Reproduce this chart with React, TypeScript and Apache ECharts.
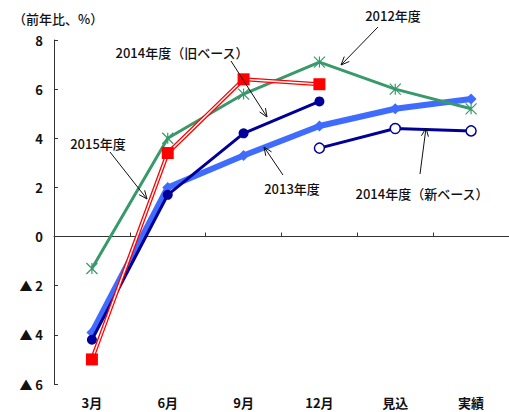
import React, { useEffect, useRef } from "react";
import * as echarts from "echarts";

// Survey round (months) plus estimate / actual columns
const categories = ["3月", "6月", "9月", "12月", "見込", "実績"];

// Year-on-year change, %
const fy2012 = [-1.3, 4.0, 5.8, 7.1, 6.0, 5.2];
const fy2013 = [-3.9, 2.0, 3.3, 4.5, 5.2, 5.6];
const fy2014Old = [-5.0, 3.4, 6.4, 6.2, null, null];
const fy2014New = [null, null, null, 3.6, 4.4, 4.3];
const fy2015 = [-4.2, 1.7, 4.2, 5.5, null, null];

const yTicks = [-6, -4, -2, 0, 2, 4, 6, 8];

const FONT = "'Noto Sans CJK JP', 'Noto Sans', sans-serif";
const GREEN = "#38996a";
const LIGHT_BLUE = "#3f6cff";
const NAVY = "#000099";
const RED = "#ff0000";

// Label text with an open arrow pointing from (x1,y1) to (x2,y2)
function callout(text: string, tx: number, ty: number, x1: number, y1: number, x2: number, y2: number) {
  const ang = Math.atan2(y2 - y1, x2 - x1);
  const len = 9;
  const spread = 0.4;
  const a1 = [x2 - len * Math.cos(ang - spread), y2 - len * Math.sin(ang - spread)];
  const a2 = [x2 - len * Math.cos(ang + spread), y2 - len * Math.sin(ang + spread)];
  return [
    {
      type: "text",
      x: tx,
      y: ty,
      style: { text, font: `500 13px ${FONT}`, fill: "#111", textAlign: "center", textVerticalAlign: "middle" },
      z: 100,
    },
    { type: "line", shape: { x1, y1, x2, y2 }, style: { stroke: "#111", lineWidth: 1 }, z: 100 },
    { type: "polyline", shape: { points: [a1, [x2, y2], a2] }, style: { stroke: "#111", lineWidth: 1, fill: "none" }, z: 100 },
  ];
}

export default function App() {
  const ref = useRef<HTMLDivElement>(null);

  useEffect(() => {
    if (!ref.current) return;
    const chart = echarts.init(ref.current, null, { renderer: "svg" });
    const labelStyle = { fontFamily: FONT, fontSize: 13, fontWeight: "bold" as const, color: "#111" };

    chart.setOption({
      animation: false,
      backgroundColor: "#fff",
      grid: { left: 54, right: 0, top: 40, bottom: 28 },
      xAxis: [
        {
          type: "category",
          data: categories,
          boundaryGap: true,
          axisLine: { onZero: true, lineStyle: { color: "#333", width: 1 } },
          axisTick: { show: true, inside: true, length: 4, lineStyle: { color: "#333" } },
          axisLabel: { show: false },
          splitLine: { show: false },
        },
        {
          type: "category",
          data: categories,
          position: "bottom",
          boundaryGap: true,
          axisLine: { show: false, onZero: false },
          axisTick: { show: false },
          axisLabel: { ...labelStyle, margin: 12 },
          splitLine: { show: false },
        },
      ],
      yAxis: {
        type: "value",
        min: yTicks[0],
        max: yTicks[yTicks.length - 1],
        interval: 2,
        axisLine: { show: true, lineStyle: { color: "#333", width: 1 } },
        axisTick: { show: true, inside: true, length: 4, lineStyle: { color: "#333" } },
        axisLabel: {
          ...labelStyle,
          margin: 11,
          formatter: (v: number) => (v < 0 ? `▲ ${-v}` : `${v}`),
        },
        splitLine: { show: false },
      },
      series: [
        {
          name: "2013年度",
          type: "line",
          data: fy2013,
          symbol: "diamond",
          symbolSize: 11,
          lineStyle: { color: LIGHT_BLUE, width: 6 },
          itemStyle: { color: LIGHT_BLUE },
          z: 2,
        },
        {
          name: "2015年度",
          type: "line",
          data: fy2015,
          symbol: "circle",
          symbolSize: 10,
          lineStyle: { color: NAVY, width: 3 },
          itemStyle: { color: NAVY },
          z: 3,
        },
        {
          name: "2012年度",
          type: "line",
          data: fy2012,
          symbol: "path://M0,0L10,10M10,0L0,10M5,0L5,10",
          symbolSize: 11,
          lineStyle: { color: GREEN, width: 3 },
          itemStyle: { color: "none", borderColor: GREEN, borderWidth: 1.2 },
          z: 4,
        },
        {
          name: "2014年度（旧ベース）",
          type: "line",
          data: fy2014Old,
          symbol: "none",
          lineStyle: { color: RED, width: 4 },
          z: 5,
        },
        {
          name: "2014年度（旧ベース）内側",
          type: "line",
          data: fy2014Old,
          symbol: "none",
          lineStyle: { color: "#fff", width: 1.4 },
          z: 6,
        },
        {
          name: "2014年度（旧ベース）点",
          type: "line",
          data: fy2014Old,
          symbol: "rect",
          symbolSize: 12,
          lineStyle: { width: 0, opacity: 0 },
          itemStyle: { color: RED },
          z: 7,
        },
        {
          name: "2014年度（新ベース）",
          type: "line",
          data: fy2014New,
          symbol: "circle",
          symbolSize: 10,
          lineStyle: { color: NAVY, width: 3 },
          itemStyle: { color: "#fff", borderColor: NAVY, borderWidth: 1.5 },
          z: 8,
        },
      ],
      graphic: [
        {
          type: "text",
          x: 13,
          y: 18,
          style: { text: "（前年比、%）", font: `500 13px ${FONT}`, fill: "#111", textVerticalAlign: "middle" },
        },
        ...callout("2014年度（旧ベース）", 182, 52, 231, 61, 267, 117),
        ...callout("2012年度", 393, 15, 378, 27, 341, 65),
        ...callout("2015年度", 98, 143, 110, 152, 147, 199),
        ...callout("2013年度", 292, 188, 283, 175, 264, 147),
        ...callout("2014年度（新ベース）", 422, 193, 420, 174, 426, 128),
      ],
    });

    return () => chart.dispose();
  }, []);

  return <div ref={ref} style={{ position: "fixed", left: 0, top: 0, width: 509, height: 412 }} />;
}
